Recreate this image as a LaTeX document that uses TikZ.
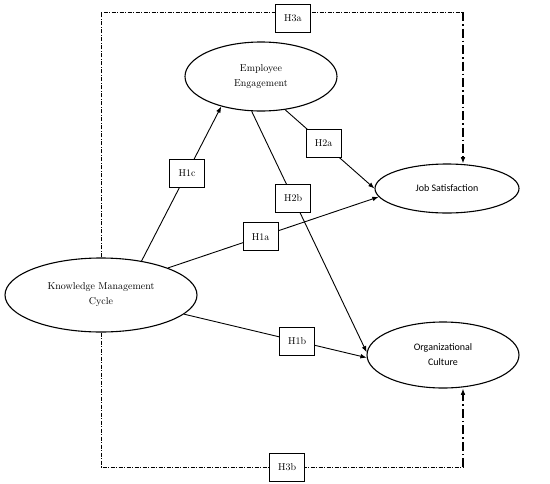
\documentclass[tikz,border=0pt]{standalone}
\usepackage{fontspec}
\newfontfamily\carlito{Carlito}
\usetikzlibrary{arrows.meta,shapes.geometric}

\begin{document}
\begin{tikzpicture}[
    x=1pt, y=-1pt,
    every node/.style={font=\fontsize{10}{15}\selectfont},
    construct/.style={draw, ellipse, line width=1.1pt, fill=white, align=center, inner sep=0pt},
    hyp/.style={draw, solid, line width=0.7pt, fill=white, minimum width=35pt, minimum height=28pt, inner sep=0pt},
    flow/.style={-{Latex[length=2.2mm]}, line width=0.9pt},
    indirect/.style={dash pattern=on 4pt off 1.5pt on 1pt off 1.5pt, line width=0.5pt},
    indirectend/.style={-{Latex[length=2.2mm]}, dash pattern=on 9pt off 3pt on 1.5pt off 3pt, line width=1.1pt}
]
\useasboundingbox (0,0) rectangle (550,483);
\node[construct, minimum width=192pt, minimum height=74pt] (kmc) at (101,295) {Knowledge Management\\Cycle};
\node[construct, minimum width=152pt, minimum height=69pt] (ee) at (261,76.5) {Employee\\Engagement};
\node[construct, minimum width=144pt, minimum height=49pt, font=\carlito\fontsize{10}{15}\selectfont] (js) at (447,188.5) {Job Satisfaction};
\node[construct, minimum width=152pt, minimum height=66pt, font=\carlito\fontsize{10}{15}\selectfont] (oc) at (443,355) {Organizational\\Culture};
\coordinate (tl) at (101,12);
\coordinate (tr) at (463,12);
\coordinate (bl) at (101,467);
\coordinate (br) at (463,467);
\draw[flow] (kmc.40) -- node[hyp, pos=0.57] (h1c) {H1c} (ee.217);
\draw[flow] (kmc.22) -- node[hyp, pos=0.44] (h1a) {H1a} (js.187);
\draw[flow] (kmc.347) -- node[hyp, pos=0.62] (h1b) {H1b} (oc.182);
\draw[flow] (ee.306) -- node[hyp, pos=0.43] (h2a) {H2a} (js.west);
\draw[flow] (ee.255) -- node[hyp, pos=0.36] (h2b) {H2b} (oc.178);
\draw[indirect] (kmc.north) -- (tl) -- node[hyp, pos=0.53, yshift=-6.5pt] (h3a) {H3a} (tr);
\draw[indirectend] (tr) -- (tr |- js.north);
\draw[indirect] (kmc.south) -- (bl) -- node[hyp, pos=0.514] (h3b) {H3b} (br);
\draw[indirectend] (br) -- (br |- oc.south);
\end{tikzpicture}
\end{document}
